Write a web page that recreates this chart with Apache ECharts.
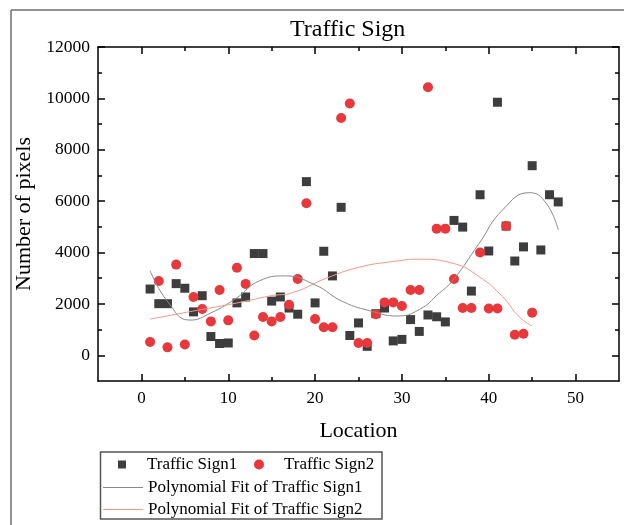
<!DOCTYPE html>
<html>
<head>
<meta charset="utf-8">
<script src="https://cdn.jsdelivr.net/npm/echarts@6/dist/echarts.min.js"></script>
<style>
html,body{margin:0;padding:0;background:#fff;}
#chart{width:624px;height:525px;}
</style>
</head>
<body>
<div id="chart"></div>
<script>
// ---- data ----
const sign1 = [2580,2010,2010,2790,2610,1690,2320,730,460,480,2040,2270,3960,3960,2110,2270,1840,1600,6760,2040,4050,3090,5760,770,1260,350,1620,1840,560,620,1390,930,1570,1500,1300,5250,4990,2500,6250,4060,9850,5030,3670,4220,7380,4100,6250,5970];
const sign2 = [520,2890,310,3530,420,2270,1800,1320,2540,1360,3410,2780,770,1490,1320,1490,1970,2970,5920,1410,1090,1090,9240,9800,480,480,1600,2060,2060,1920,2540,2540,10430,4930,4930,2970,1840,1840,4000,1820,1820,5030,800,840,1660];
const fit1X = [1,3,5.6,8,10.9,13.6,16.5,20,23.2,26.7,29.4,32,34.3,35.9,38.9,41.6,44.7,46.6,48];
const fit1Y = [3300,2100,1370,1650,2220,2900,3090,2740,2090,1700,1530,1780,2420,2930,4360,5660,6330,5920,4880];
const fit2X = [1,5.6,10.9,14.8,17.5,21.3,25.1,29,32,35.9,38.9,41.6,43.5,45];
const fit2Y = [1410,1700,2030,2310,2450,3000,3430,3650,3740,3580,3060,2280,1500,1140];
const xMajor = [0,10,20,30,40,50];
const xMinor = [5,15,25,35,45];
const yMajor = [0,2000,4000,6000,8000,10000,12000];
const yMinor = [1000,3000,5000,7000,9000,11000];
const names = ['Traffic Sign1','Traffic Sign2','Polynomial Fit of Traffic Sign1','Polynomial Fit of Traffic Sign2'];

const FONT = "'Liberation Serif','Times New Roman',serif";
const chart = echarts.init(document.getElementById('chart'));

function xAx(pos, ticks, len, label, showLine, extra) {
  return Object.assign({
    type:'value', position:pos, min:-5, max:55,
    axisLine:{show:showLine, onZero:false, lineStyle:{color:'#000', width:1.5}},
    axisTick:{show:true, inside:true, length:len, customValues:ticks, lineStyle:{color:'#000', width:1.5}},
    axisLabel:{show:label, customValues:ticks, color:'#000', fontFamily:FONT, fontSize:17, margin:9, formatter:v=>String(v)},
    splitLine:{show:false}
  }, extra||{});
}
function yAx(pos, ticks, len, label, showLine, extra) {
  return Object.assign({
    type:'value', position:pos, min:-1000, max:12000,
    axisLine:{show:showLine, onZero:false, lineStyle:{color:'#000', width:1.5}},
    axisTick:{show:true, inside:true, length:len, customValues:ticks, lineStyle:{color:'#000', width:1.5}},
    axisLabel:{show:label, customValues:ticks, color:'#000', fontFamily:FONT, fontSize:17.5, margin:8, formatter:v=>String(v)},
    splitLine:{show:false}
  }, extra||{});
}
function leg(item, left, top, w, h) {
  return {data:[item], left:left, top:top, orient:'horizontal', itemWidth:w, itemHeight:h, symbolKeepAspect:true,
          textStyle:{fontFamily:FONT, fontSize:17, color:'#000'}};
}

const option = {
  animation:false,
  backgroundColor:'#fff',
  title:{text:'Traffic Sign', left:285, top:13, textStyle:{fontFamily:FONT, fontSize:24, fontWeight:'normal', color:'#000'}},
  grid:{left:98, right:5, top:47, bottom:144, containLabel:false},
  xAxis:[
    xAx('bottom', xMajor, 7, true, true, {name:'Location', nameLocation:'middle', nameGap:39, nameTextStyle:{fontFamily:FONT, fontSize:22, color:'#000'}}),
    xAx('bottom', xMinor, 4, false, false),
    xAx('top', xMajor, 7, false, true),
    xAx('top', xMinor, 4, false, false)
  ],
  yAxis:[
    yAx('left', yMajor, 7, true, true, {name:'Number of pixels', nameLocation:'middle', nameGap:55, nameTextStyle:{fontFamily:FONT, fontSize:22, color:'#000'}}),
    yAx('left', yMinor, 4, false, false),
    yAx('right', yMajor, 7, false, true),
    yAx('right', yMinor, 4, false, false)
  ],
  legend:[
    leg({name:names[0], icon:'path://M0,0L10,0L10,10L0,10Z'}, 113, 451, 40, 8),
    leg({name:names[1], icon:'circle'}, 249, 451, 40, 10),
    leg({name:names[2], icon:'rect'}, 98, 474, 40, 1),
    leg({name:names[3], icon:'rect'}, 98, 496, 40, 1)
  ],
  graphic:[
    {type:'line', shape:{x1:11, y1:10, x2:624, y2:10}, style:{stroke:'#6e6e6e', lineWidth:1.5}, silent:true},
    {type:'line', shape:{x1:11, y1:10, x2:11, y2:525}, style:{stroke:'#6e6e6e', lineWidth:1.5}, silent:true},
    {type:'rect', shape:{x:100.5, y:452, width:281.5, height:67}, style:{fill:'none', stroke:'#555', lineWidth:1.5}, silent:true, z:-1}
  ],
  series:[
    {name:names[0], type:'scatter', symbol:'rect', symbolSize:9, itemStyle:{color:'#3d3d3d', opacity:1},
     data:sign1.map((v,i)=>[i+1,v])},
    {name:names[1], type:'scatter', symbol:'circle', symbolSize:10, itemStyle:{color:'#e8383b', opacity:1},
     data:sign2.map((v,i)=>[i+1,v])},
    {name:names[2], type:'line', smooth:0.5, symbol:'none', lineStyle:{color:'#8a8a8a', width:1}, itemStyle:{color:'#8a8a8a'},
     data:fit1X.map((x,i)=>[x,fit1Y[i]])},
    {name:names[3], type:'line', smooth:0.5, symbol:'none', lineStyle:{color:'#f59a85', width:1}, itemStyle:{color:'#f59a85'},
     data:fit2X.map((x,i)=>[x,fit2Y[i]])}
  ]
};
chart.setOption(option);
</script>
</body>
</html>
